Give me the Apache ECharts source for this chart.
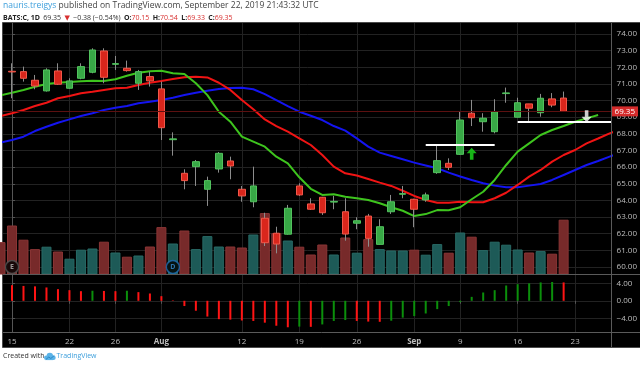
<!DOCTYPE html>
<html><head><meta charset="utf-8">
<script src="https://cdn.jsdelivr.net/npm/echarts@6/dist/echarts.min.js"></script>
<style>html,body{margin:0;padding:0;background:#fff}#c{width:640px;height:367px}</style>
</head><body><div id="c"></div>
<script>
// ---------- DATA ----------
const dates = ['2019-07-15','2019-07-16','2019-07-17','2019-07-18','2019-07-19','2019-07-22','2019-07-23','2019-07-24','2019-07-25','2019-07-26','2019-07-29','2019-07-30','2019-07-31','2019-08-01','2019-08-02','2019-08-05','2019-08-06','2019-08-07','2019-08-08','2019-08-09','2019-08-12','2019-08-13','2019-08-14','2019-08-15','2019-08-16','2019-08-19','2019-08-20','2019-08-21','2019-08-22','2019-08-23','2019-08-26','2019-08-27','2019-08-28','2019-08-29','2019-08-30','2019-09-03','2019-09-04','2019-09-05','2019-09-06','2019-09-09','2019-09-10','2019-09-11','2019-09-12','2019-09-13','2019-09-16','2019-09-17','2019-09-18','2019-09-19','2019-09-20'];
const opens  = [71.76,71.74,71.22,70.58,71.78,70.74,71.34,71.70,72.98,72.18,71.94,71.04,71.44,70.70,67.65,65.63,66.03,64.67,65.89,66.37,64.67,63.92,62.93,62.03,61.97,64.87,63.79,64.19,63.90,63.32,62.63,63.06,61.36,63.32,64.37,64.07,64.03,65.67,66.23,66.77,69.24,68.73,68.13,70.42,69.00,69.80,69.27,70.10,70.15];
const closes = [71.72,71.34,70.88,71.84,70.98,71.18,72.04,73.04,71.40,72.22,71.80,71.74,71.18,68.37,67.70,65.19,66.33,65.19,66.83,66.07,64.27,64.87,61.46,61.38,63.53,64.33,63.47,63.26,63.94,61.98,62.78,61.72,62.42,63.92,64.41,63.47,64.33,66.39,65.99,68.83,68.97,68.94,69.33,70.46,69.87,69.54,70.14,69.73,69.35];
const lows   = [70.14,71.14,70.68,70.54,70.94,70.72,71.28,71.64,71.04,71.84,71.74,70.64,70.84,67.63,66.69,64.67,64.87,63.67,65.67,65.27,63.92,63.59,61.26,60.82,61.95,64.27,63.43,63.13,63.47,61.58,62.27,61.22,61.36,63.19,64.13,62.39,63.92,65.60,65.83,66.75,68.47,68.13,68.03,69.87,69.00,68.73,69.03,69.60,69.33];
const highs  = [72.24,72.04,71.54,71.94,72.24,71.34,72.24,73.14,73.14,72.68,72.40,71.84,71.74,71.14,68.09,65.87,66.43,65.43,66.91,66.63,64.87,66.03,63.26,62.42,63.73,65.03,64.13,64.21,64.27,64.13,62.99,63.19,62.87,64.33,64.87,64.10,64.47,67.33,66.53,69.33,70.04,69.24,70.08,70.78,70.17,69.80,70.40,70.45,70.54];
// volume (millions), first value = 2019-07-12 (previous session, down day)
const volumes = [16.2, 24.5,17.4,12.7,13.9,11.5, 7.9,12.4,13.0,16.4,11.0, 8.9,9.5,14.0,23.7,15.5, 22.0,12.7,19.2,14.0,14.0, 13.5,20.0,30.7,20.7,17.0, 13.9,10.0,15.0,10.0,18.5, 10.9,17.7,12.7,12.0,12.0, 12.4,9.9,15.2,10.9, 21.0,18.9,12.2,16.4,14.9, 12.5,11.0,11.7,10.4,27.4];
const prevDayDown = true;
// Awesome Oscillator
const aoValues = [3.57,3.4,3.3,3.05,2.66,2.43,2.2,2.3,2.25,2.2,2.3,1.98,1.67,1.06,0.1,-1.2,-2.27,-3.6,-4.2,-4.3,-4.5,-4.6,-5.0,-5.7,-6.05,-5.9,-5.95,-5.4,-4.6,-4.4,-4.6,-4.75,-4.8,-4.55,-3.85,-3.5,-2.9,-1.9,-1.2,-0.3,0.9,1.9,2.43,3.5,3.8,4.0,4.2,4.3,4.2];
// Alligator lines (start one session before first candle, shifted forward)
const lipsValues  = [70.32,70.47,70.64,70.83,71.00,71.07,71.12,71.16,71.19,71.18,71.28,71.49,71.67,71.76,71.79,71.64,71.60,71.04,70.33,69.33,68.73,67.83,67.53,67.23,66.63,66.23,65.39,64.70,64.33,64.37,64.22,64.13,64.03,63.83,63.59,63.38,63.06,63.18,63.42,63.41,63.59,64.07,64.52,65.23,66.13,66.93,67.43,67.93,68.23,68.47,68.73,68.93,69.13];
const teethValues = [69.07,69.24,69.43,69.67,69.87,70.14,70.27,70.44,70.53,70.64,70.74,70.77,70.94,71.07,71.18,71.30,71.40,71.43,71.39,71.07,70.64,70.03,69.48,68.87,68.47,68.13,67.73,67.33,66.73,66.03,65.63,65.50,65.29,65.07,64.87,64.58,64.27,64.03,63.86,63.86,63.92,63.89,63.89,64.13,64.46,64.93,65.43,65.83,66.33,66.73,67.03,67.43,67.72,68.03,68.29];
const jawValues   = [67.47,67.63,67.83,68.17,68.43,68.67,68.87,69.07,69.24,69.43,69.57,69.67,69.84,69.93,70.03,70.17,70.33,70.47,70.59,70.70,70.76,70.77,70.68,70.39,70.03,69.67,69.33,69.09,68.83,68.47,68.19,67.73,67.23,66.87,66.67,66.47,66.27,66.10,65.93,65.67,65.44,65.23,65.03,64.89,64.79,64.79,64.89,64.99,65.23,65.53,65.83,66.13,66.37,66.63,66.88];
// axis ticks
const tickIndex  = [0,5,9,13,20,25,30,35,39,44,49];
const tickLabels = ['15','22','26','Aug','12','19','26','Sep','9','16','23'];
const priceTicks = [60,61,62,63,64,65,66,67,68,69,70,71,72,73,74];
const aoTicks = [4,0,-4];
// drawings
const levelStart = [36, 44];
const levelEnd   = [42, null];
const levelPrice = [67.37, 68.70];
const arrowIdx   = [40, 50];
const arrowPrice = [66.81, 69.06];
const arrowDir   = ['up', 'down'];
const eventIdx   = [0, 14];
const eventText  = ['E', 'D'];

// ---------- LAYOUT ----------
const L = 3, R = 612, TOP = 23, MAIN_B = 274.5, AO_B = 332.5;
const X0 = 12, STEP = 11.5;
const xMin = (L - X0) / STEP, xMax = (R - X0) / STEP;
const Y60 = 267, PPU = 16.643;
const pMax = 60 + (Y60 - TOP) / PPU, pMin = 60 - (MAIN_B - Y60) / PPU;
const AO0 = 300.8, AOPU = 4.375;
const aoMax = (AO0 - MAIN_B) / AOPU, aoMin = -(AO_B - AO0) / AOPU;
const volMax = (MAIN_B - TOP) * 0.5;
const EVENT_PRICE = 60.0;

const UP = '#38a846', UP_B = '#52c25e', DN = '#d9261c', DN_B = '#f2574a';
const GRID = '#222', AXIS = '#555', TXT = '#bdbdbd';
const FONT = "'Open Sans', 'DejaVu Sans', sans-serif";

const n = opens.length;
const last = n - 1;
const chg = closes[last] - closes[last - 1];
const pct = chg / closes[last - 1] * 100;
const m = v => (v < 0 ? '\u2212' : '') + Math.abs(v).toFixed(2);

const candleFull = opens.map((o, i) => [i, o, closes[i], lows[i], highs[i]]);
const candleBody = opens.map((o, i) => [i, o, closes[i], Math.min(o, closes[i]), Math.max(o, closes[i])]);
const volData = volumes.map((v, k) => {
  const i = k - 1;
  const down = i < 0 ? prevDayDown : closes[i] < opens[i];
  return { value: [i, v], itemStyle: { color: down ? '#772a2a' : '#1d5a57', borderColor: down ? '#8a3535' : '#286a66', borderWidth: 1 } };
});
const aoData = aoValues.map((v, i) => ({ value: [i, v], itemStyle: { color: (i > 0 && v > aoValues[i - 1]) ? '#0b8f0b' : '#ff1414' } }));
const lineData = arr => arr.map((v, k) => [k - 1, v]);

const levelLines = levelStart.map((s, k) => [
  { coord: [s, levelPrice[k]] },
  { coord: [levelEnd[k] == null ? xMax : levelEnd[k], levelPrice[k]] }
]);
const UP_ARROW = 'path://M5 0 L10 6 L6.8 6 L6.8 13 L3.2 13 L3.2 6 L0 6 Z';
const DN_ARROW = 'path://M3.2 0 L6.8 0 L6.8 7 L10 7 L5 13 L0 7 L3.2 7 Z';
const arrowData = arrowIdx.map((x, k) => ({
  value: [x, arrowPrice[k]],
  symbol: arrowDir[k] === 'up' ? UP_ARROW : DN_ARROW,
  itemStyle: { color: arrowDir[k] === 'up' ? '#1de21d' : '#ffffff' }
}));
const eventData = eventIdx.map((x, k) => ({
  value: [x, EVENT_PRICE],
  itemStyle: { color: '#000', borderColor: eventText[k] === 'D' ? '#1f6fb5' : '#555', borderWidth: 1.5 },
  label: { show: true, formatter: eventText[k], color: eventText[k] === 'D' ? '#3a8bd0' : '#bbb', fontSize: 7, fontWeight: 'bold', fontFamily: FONT }
}));

const xBase = (gi, labels) => ({
  type: 'value', gridIndex: gi, min: xMin, max: xMax,
  axisLine: { show: false },
  axisTick: { show: labels, customValues: tickIndex, length: 3, lineStyle: { color: AXIS } },
  axisLabel: {
    show: labels, customValues: tickIndex, color: TXT, fontSize: 8, fontFamily: FONT, margin: 5,
    formatter: v => { const t = tickLabels[tickIndex.indexOf(Math.round(v))] || ''; return /[A-Za-z]/.test(t) ? '{b|' + t + '}' : t; },
    rich: { b: { fontWeight: 'bold', color: TXT, fontSize: 8, fontFamily: FONT } }
  },
  splitLine: { show: true, lineStyle: { color: GRID, width: 1 } }
});

const H2 = 7;
const option = {
  backgroundColor: '#ffffff',
  animation: false,
  grid: [
    { left: L, right: 640 - R, top: TOP, height: MAIN_B - TOP },
    { left: L, right: 640 - R, top: MAIN_B, height: AO_B - MAIN_B }
  ],
  xAxis: [xBase(0, false), xBase(1, true)],
  yAxis: [
    { type: 'value', gridIndex: 0, position: 'right', min: pMin, max: pMax,
      axisLine: { show: true, lineStyle: { color: AXIS } },
      axisTick: { show: true, customValues: priceTicks, length: 3, lineStyle: { color: AXIS } },
      axisLabel: { customValues: priceTicks, formatter: v => v.toFixed(2), color: TXT, fontSize: 8, fontFamily: FONT, margin: 5 },
      splitLine: { show: true, lineStyle: { color: GRID } } },
    { type: 'value', gridIndex: 0, min: 0, max: volMax, show: false, splitLine: { show: false } },
    { type: 'value', gridIndex: 1, position: 'right', min: aoMin, max: aoMax,
      axisLine: { show: true, lineStyle: { color: AXIS } },
      axisTick: { show: true, customValues: aoTicks, length: 3, lineStyle: { color: AXIS } },
      axisLabel: { customValues: aoTicks, formatter: v => m(v), color: TXT, fontSize: 8, fontFamily: FONT, margin: 5 },
      splitLine: { show: true, lineStyle: { color: GRID } } }
  ],
  series: [
    { type: 'bar', name: 'Volume', xAxisIndex: 0, yAxisIndex: 1, data: volData, barWidth: 10, z: 1, silent: true },
    { type: 'line', name: 'Jaw', xAxisIndex: 0, yAxisIndex: 0, data: lineData(jawValues), showSymbol: false, lineStyle: { color: '#1414f0', width: 2 }, z: 2, silent: true },
    { type: 'line', name: 'Teeth', xAxisIndex: 0, yAxisIndex: 0, data: lineData(teethValues), showSymbol: false, lineStyle: { color: '#f01414', width: 2 }, z: 2, silent: true },
    { type: 'line', name: 'Lips', xAxisIndex: 0, yAxisIndex: 0, data: lineData(lipsValues), showSymbol: false, lineStyle: { color: '#3ec41e', width: 2 }, z: 2, silent: true,
      markLine: { silent: true, symbol: ['none', 'none'], label: { show: false }, lineStyle: { color: '#ffffff', width: 2, type: 'solid' }, data: levelLines } },
    { type: 'candlestick', name: 'Wick', xAxisIndex: 0, yAxisIndex: 0, data: candleFull, encode: { x: 0, y: [1, 2, 3, 4] }, barWidth: 1,
      itemStyle: { color: '#8c8c8c', color0: '#8c8c8c', borderColor: '#8c8c8c', borderColor0: '#8c8c8c', borderWidth: 1 }, z: 3, silent: true },
    { type: 'candlestick', name: 'C', xAxisIndex: 0, yAxisIndex: 0, data: candleBody, encode: { x: 0, y: [1, 2, 3, 4] }, barWidth: 7,
      itemStyle: { color: UP, color0: DN, borderColor: UP_B, borderColor0: DN_B, borderWidth: 1 }, z: 4, silent: true,
      markLine: { silent: true, symbol: ['none', 'none'], lineStyle: { color: '#5c1010', width: 1, type: 'solid' },
        label: { show: true, position: 'end', distance: 0, formatter: closes[last].toFixed(2), color: '#fff', backgroundColor: '#d42b2b', padding: [1, 3, 1, 3], fontSize: 8, fontFamily: FONT },
        data: [{ yAxis: closes[last] }] } },
    { type: 'scatter', name: 'Arrows', xAxisIndex: 0, yAxisIndex: 0, data: arrowData, symbolSize: [10, 12], z: 6, silent: true },
    { type: 'scatter', name: 'Events', xAxisIndex: 0, yAxisIndex: 0, data: eventData, symbol: 'circle', symbolSize: 13, z: 6, silent: true },
    { type: 'bar', name: 'AO', xAxisIndex: 1, yAxisIndex: 2, data: aoData, barWidth: 2, z: 3, silent: true }
  ],
  graphic: [
    { type: 'rect', z: -10, silent: true, shape: { x: 2.5, y: 22.5, width: 640, height: 325 }, style: { fill: '#000', stroke: '#4a4a4a', lineWidth: 1 } },
    { type: 'line', z: 10, silent: true, shape: { x1: 3, y1: MAIN_B, x2: 640, y2: MAIN_B }, style: { stroke: '#5a5a5a', lineWidth: 1 } },
    { type: 'line', z: 10, silent: true, shape: { x1: 3, y1: AO_B, x2: 640, y2: AO_B }, style: { stroke: '#5a5a5a', lineWidth: 1 } },
    { type: 'line', z: 10, silent: true, shape: { x1: R - 0.5, y1: TOP, x2: R - 0.5, y2: 347 }, style: { stroke: '#5a5a5a', lineWidth: 1 } },
    { type: 'text', z: 10, silent: true, x: 3, y: 1, style: {
      text: '{u|nauris.treigys}{t| published on TradingView.com, September 22, 2019 21:43:32 UTC}',
      rich: { u: { fill: '#3d9fdc', fontSize: 8.5, fontFamily: FONT }, t: { fill: '#444', fontSize: 8.5, fontFamily: FONT } } } },
    { type: 'text', z: 10, silent: true, x: 3, y: 11.5, style: {
      text: '{b|BATS:C, 1D} {n|' + closes[last].toFixed(2) + '} {r|\u25BC} {n|' + m(chg) + ' (' + m(pct) + '%)} {b|O:}{r|' + opens[last].toFixed(2) + '} {b|H:}{r|' + highs[last].toFixed(2) + '} {b|L:}{r|' + lows[last].toFixed(2) + '} {b|C:}{r|' + closes[last].toFixed(2) + '}',
      rich: { b: { fill: '#222', fontSize: H2, fontWeight: 'bold', fontFamily: FONT }, n: { fill: '#333', fontSize: H2, fontFamily: FONT }, r: { fill: '#d83030', fontSize: H2, fontFamily: FONT } } } },
    { type: 'text', z: 10, silent: true, x: 3, y: 352.5, style: { text: 'Created with', fill: '#333', fontSize: 7, fontFamily: FONT } },
    { type: 'group', z: 10, silent: true, children: [
      { type: 'circle', shape: { cx: 46.3, cy: 357.8, r: 2.3 }, style: { fill: '#5ab3e8' } },
      { type: 'circle', shape: { cx: 49.8, cy: 356, r: 3.2 }, style: { fill: '#5ab3e8' } },
      { type: 'circle', shape: { cx: 53.4, cy: 357.8, r: 2.3 }, style: { fill: '#5ab3e8' } },
      { type: 'rect', shape: { x: 46.3, y: 357, width: 7, height: 3.1 }, style: { fill: '#5ab3e8' } },
      { type: 'polyline', shape: { points: [[45.8, 359.5], [48.8, 357], [50.8, 358.5], [54.3, 355.5]] }, style: { stroke: '#2a86c4', lineWidth: 1, fill: null } }
    ] },
    { type: 'text', z: 10, silent: true, x: 56.5, y: 352.5, style: { text: 'TradingView', fill: '#3d9fdc', fontSize: 7, fontFamily: FONT } }
  ]
};
const chart = echarts.init(document.getElementById('c'));
chart.setOption(option);
</script>
</body></html>
